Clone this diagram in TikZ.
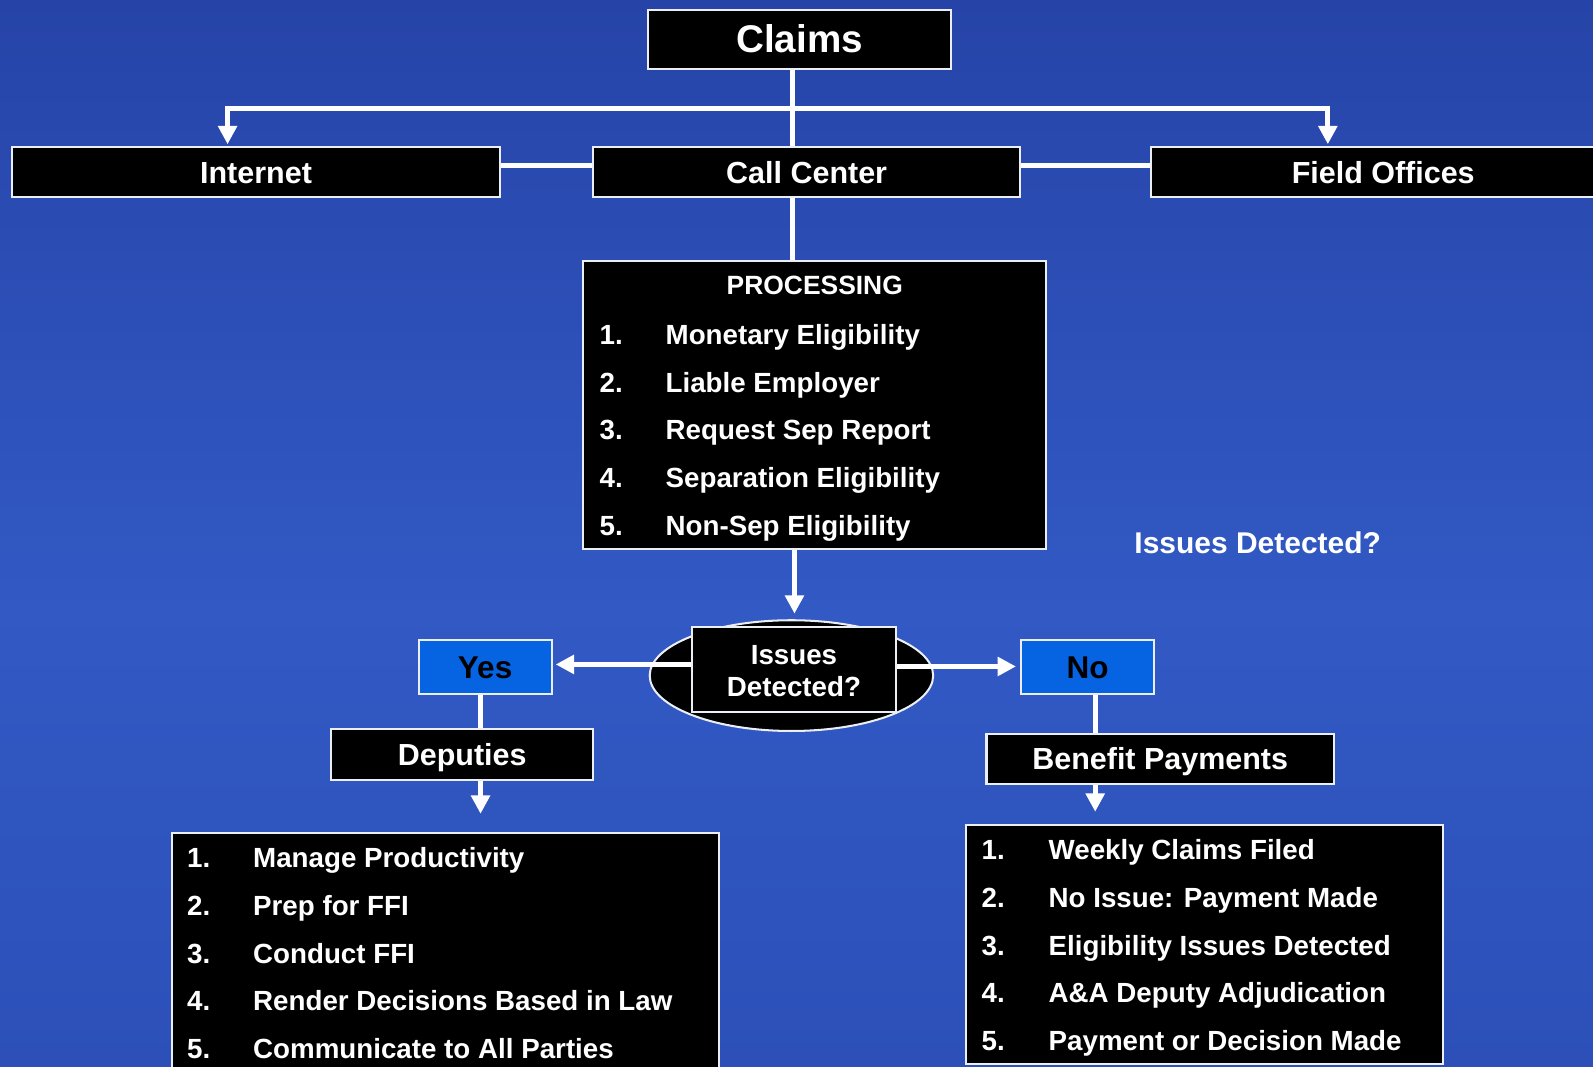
\documentclass[tikz,border=0pt]{standalone}
\usepackage{fontspec}
\setmainfont{Liberation Sans}
\usetikzlibrary{arrows.meta,shapes.geometric}
\definecolor{bgtop}{RGB}{38,68,168}
\definecolor{bgmid}{RGB}{50,89,196}
\definecolor{bgbot}{RGB}{44,80,184}
\definecolor{btnblue}{RGB}{6,100,226}
\definecolor{edge}{RGB}{235,238,245}
\begin{document}
\begin{tikzpicture}[x=1pt,y=-1pt,
  box/.style={draw=edge,line width=2pt,fill=black,text=white,inner sep=0pt,align=center},
  bluebox/.style={box,fill=btnblue,text=black},
  conn/.style={draw=white,line width=5pt},
  arr/.style={conn,-{Triangle[width=18pt,length=18pt]}},
  item/.style={anchor=base west,text=white,font=\fontsize{27.3}{32}\selectfont\bfseries,inner sep=0pt},
  big/.style={font=\fontsize{30}{36}\selectfont\bfseries,text height=21.5pt,text depth=0pt},
  huge/.style={font=\fontsize{38}{44}\selectfont\bfseries,text height=27.2pt,text depth=0pt},
  yn/.style={font=\fontsize{31}{36}\selectfont\bfseries,text height=22.2pt,text depth=0pt}]
\useasboundingbox (0,0) rectangle (1568,1050);
\shade[top color=bgtop,bottom color=bgmid] (0,0) rectangle (1568,600);
\shade[top color=bgmid,bottom color=bgbot] (0,599) rectangle (1568,1050);

% top level
\node[box,huge,minimum width=298,minimum height=58] (claims) at (787,38.5) {Claims};
\node[box,big,minimum width=480,minimum height=49] (internet) at (252,169.5) {Internet};
\node[box,big,minimum width=420,minimum height=49] (callc) at (794,169.5) {Call Center};
\node[box,big,minimum width=457,minimum height=49] (field) at (1361.5,169.5) {Field Offices};

\coordinate (bar) at (780,107);
\coordinate (barL) at (224,107);
\coordinate (barR) at (1307,107);
\coordinate (row) at (0,163);
\coordinate (vcol) at (780,0);

\draw[conn] (claims.south -| vcol) -- (callc.north -| vcol);
\draw[arr] (bar) -- (barL) -- ([yshift=2pt]barL |- internet.north);
\draw[arr] (bar) -- (barR) -- ([yshift=2pt]barR |- field.north);
\draw[conn] (internet.east |- row) -- (callc.west |- row);
\draw[conn] (callc.east |- row) -- (field.west |- row);

% processing
\node[box,minimum width=456,minimum height=283] (proc) at (802,398.5) {};
\draw[conn] (callc.south -| vcol) -- (proc.north -| vcol);
\node[item,anchor=base] (ptitle) at (802,290) {\fontsize{26}{30}\selectfont PROCESSING};
\foreach \i/\t [count=\k] in {339/Monetary Eligibility,386/Liable Employer,433/Request Sep Report,480/Separation Eligibility,527/Non-Sep Eligibility}{
  \node[item] (pn\k) at (590,\i) {\k.};
  \node[item] (pt\k) at (655,\i) {\t};
}

% decision
\node[draw=edge,line width=2pt,fill=black,ellipse,minimum width=279,minimum height=109,inner sep=0pt] (ell) at (779,665) {};
\node[box,minimum width=201,minimum height=84] (dq) at (781.5,659) {};
\node[item,anchor=base] (dq1) at (781.5,654) {Issues};
\node[item,anchor=base] (dq2) at (781.5,686) {Detected?};
\coordinate (a1) at (782,604);
\draw[arr] (proc.south -| a1) -- (a1);

\node[bluebox,yn,minimum width=131,minimum height=53] (yes) at (477.5,656.5) {Yes};
\node[bluebox,yn,minimum width=131,minimum height=53] (no) at (1070.5,656.5) {No};
\coordinate (yrow) at (0,654);
\coordinate (nrow) at (0,656);
\draw[arr] (dq.west |- yrow) -- ([xshift=3pt]yes.east |- yrow);
\draw[arr] (dq.east |- nrow) -- ([xshift=-4pt]no.west |- nrow);

% yes branch
\node[box,big,minimum width=258,minimum height=50] (dep) at (455,743) {Deputies};
\coordinate (ycol) at (473,0);
\coordinate (a2) at (473,801);
\draw[conn] (yes.south -| ycol) -- (dep.north -| ycol);
\draw[arr] (dep.south -| ycol) -- (a2);
\node[box,minimum width=539,minimum height=245] (deplist) at (438.5,942.5) {};
\foreach \i/\t [count=\k] in {854/Manage Productivity,901/Prep for FFI,948/Conduct FFI,995/Render Decisions Based in Law,1042/Communicate to All Parties}{
  \node[item] (dn\k) at (184,\i) {\k.};
  \node[item] (dt\k) at (249,\i) {\t};
}

% no branch
\node[box,big,minimum width=342,minimum height=50] (ben) at (1142,747) {Benefit Payments};
\coordinate (ncol) at (1078,0);
\coordinate (a3) at (1078,799);
\draw[conn] (no.south -| ncol) -- (ben.north -| ncol);
\draw[arr] (ben.south -| ncol) -- (a3);
\node[box,minimum width=469,minimum height=235] (benlist) at (1185.5,929.5) {};
\foreach \i/\t [count=\k] in {846/Weekly Claims Filed,893/No Issue: Payment Made,940/Eligibility Issues Detected,987/A\&A Deputy Adjudication,1034/Payment or Decision Made}{
  \node[item] (bn\k) at (966,\i) {\k.};
  \node[item] (bt\k) at (1032,\i) {\t};
}

\node[text=white,font=\fontsize{29.5}{34}\selectfont\bfseries,inner sep=0pt] (float) at (1238,534) {Issues Detected?};
\end{tikzpicture}
\end{document}
